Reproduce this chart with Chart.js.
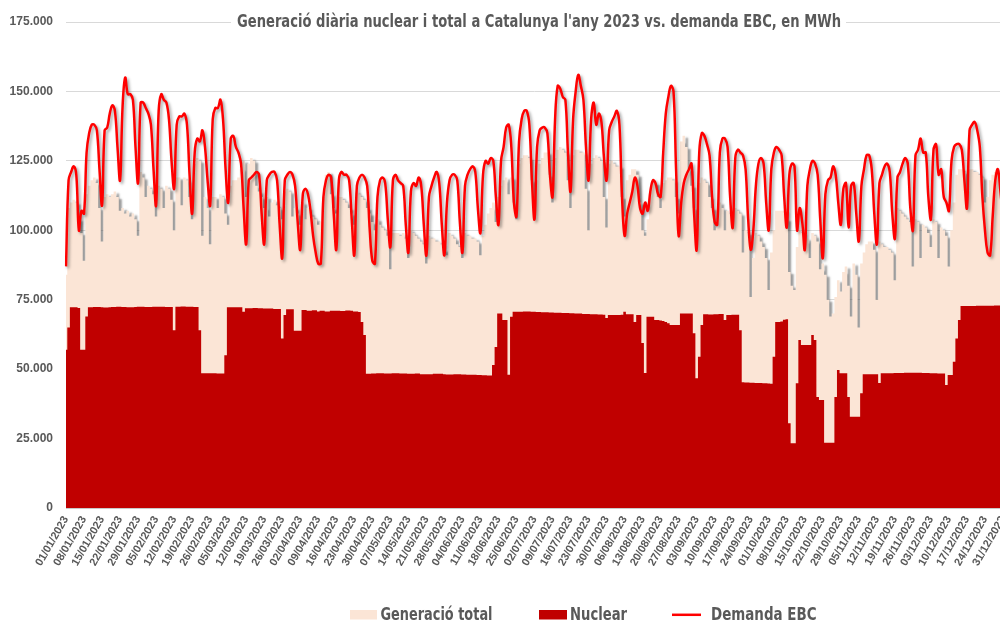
<!DOCTYPE html>
<html><head><meta charset="utf-8">
<script src="https://cdn.jsdelivr.net/npm/chart.js@4.4.0/dist/chart.umd.min.js"></script>
<style>
html,body{margin:0;padding:0;background:#fff;overflow:hidden;width:1000px;height:623px;}
#wrap{position:relative;width:1004px;height:623px;}
canvas{display:block;}
</style></head><body>
<div id="wrap"><canvas id="c" width="1004" height="623"></canvas></div>
<script>
// ---------- DATA (values in thousands of MWh) ----------
const seriesNames = ['Generació total', 'Nuclear', 'Demanda EBC'];
const titleText = "Generació diària nuclear i total a Catalunya l'any 2023 vs. demanda EBC, en MWh";
const yTickLabels = ['0', '25.000', '50.000', '75.000', '100.000', '125.000', '150.000', '175.000'];
const xTickLabels = ['01/01/2023','08/01/2023','15/01/2023','22/01/2023','29/01/2023','05/02/2023','12/02/2023','19/02/2023','26/02/2023','05/03/2023','12/03/2023','19/03/2023','26/03/2023','02/04/2023','09/04/2023','16/04/2023','23/04/2023','30/04/2023','07/05/2023','14/05/2023','21/05/2023','28/05/2023','04/06/2023','11/06/2023','18/06/2023','25/06/2023','02/07/2023','09/07/2023','16/07/2023','23/07/2023','30/07/2023','06/08/2023','13/08/2023','20/08/2023','27/08/2023','03/09/2023','10/09/2023','17/09/2023','24/09/2023','01/10/2023','08/10/2023','15/10/2023','22/10/2023','29/10/2023','05/11/2023','12/11/2023','19/11/2023','26/11/2023','03/12/2023','10/12/2023','17/12/2023','24/12/2023','31/12/2023'];

// Generació total (daily, 01/01 .. 31/12)
const total = [84,
108,110,111,110,104,99,89,
113,116,118,119,117,108,96,
112,113,112,113,114,112,107,
108,106,107,105,106,104,98,
121,119,112,116,115,113,105,
116,115,108,116,115,111,100,
119,119,109,119,118,112,104,
124,126,125,98,112,108,95,
112,112,108,113,112,106,102,
116,118,118,119,122,125,112,
124,126,125,116,114,112,108,
112,105,110,111,109,108,104,
114,115,114,105,108,106,102,
110,104,108,106,105,104,102,
103,112,120,121,113,108,106,
112,112,111,110,108,106,102,
114,113,112,111,108,106,103,
100,104,102,101,100,98,86,
99,99,99,98,99,97,90,
100,99,98,97,96,95,88,
98,97,97,96,96,95,93,
91,99,98,97,95,94,90,
99,98,98,97,97,96,91,
98,102,106,108,110,103,112,
116,118,119,113,119,110,104,
124,126,127,127,126,118,104,
118,124,126,128,128,120,110,
126,129,130,129,128,118,108,
127,129,129,128,128,115,100,
124,126,127,126,125,112,101,
124,125,124,123,123,112,105,
118,120,122,122,120,110,100,
98,104,114,117,117,112,108,
117,118,119,119,118,112,106,
132,134,130,122,116,108,99,
117,119,118,117,112,108,100,
101,110,108,100,107,106,104,
108,107,106,92,100,99,76,
90,99,98,96,94,90,78.5,
92,100,107,107,107,107,104,
85,80,78.5,94,100,99,96,
97,90,99,98,96,86,88,
84,75,69,70,76,82,78,
85,87,80,69,88,84,65,
88,92,95,96,96,93,75,
96,95,94,94,93,92,82,
108,107,106,105,104,103,87,
104,103,90,102,101,99,94,
104,103,90,101,100,98,87,
100,110,120,122,122,121,108,
122,122,121,121,120,119,110,
112,118,120,121,120,118,115];

// Nuclear (daily)
const nuclear = [57,
65,72.3,72.3,72.3,72.0,57,57,
69,72.3,72.3,72.4,72.4,72.4,72.3,
72.2,72.2,72.3,72.4,72.4,72.5,72.5,
72.4,72.4,72.3,72.3,72.3,72.4,72.5,
72.5,72.5,72.4,72.4,72.4,72.5,72.5,
72.5,72.5,72.5,72.4,72.4,72.4,64,
72.5,72.5,72.6,72.6,72.5,72.5,72.5,
72.4,72.4,64,48.5,48.5,48.5,48.5,
48.5,48.5,48.4,48.4,48.4,55,72.3,
72.3,72.3,72.3,72.3,72.3,70.7,71.9,
71.9,71.9,72.0,72.0,71.9,71.9,71.8,
71.8,71.8,71.8,71.7,71.7,71.7,61,
69.5,71.6,71.6,71.6,63.8,63.8,63.8,
71.3,71.3,71.0,71.0,71.2,71.2,70.8,
71.0,71.0,70.8,70.8,71.0,71.0,71.0,
71.0,70.9,70.9,71.1,71.1,71.0,70.8,
70.8,70.6,67,62.3,48.3,48.3,48.4,
48.4,48.5,48.5,48.5,48.4,48.4,48.4,
48.5,48.5,48.5,48.4,48.4,48.4,48.3,
48.3,48.3,48.4,48.4,48.2,48.2,48.2,
48.2,48.2,48.3,48.3,48.3,48.3,48.2,
48.1,48.1,48.1,48.2,48.2,48.2,48.1,
48.1,48.0,48.0,48.0,48.0,47.9,47.9,
47.8,47.8,47.7,47.7,51.5,58,70,
70,67.7,67.7,48,68.9,70.7,70.7,
70.7,70.7,70.8,70.8,70.8,70.7,70.7,
70.6,70.6,70.5,70.5,70.5,70.4,70.4,
70.3,70.3,70.3,70.2,70.2,70.2,70.1,
70.1,70.0,70.0,70.0,69.9,69.9,69.9,
69.8,69.8,69.8,69.7,69.7,69.6,68.4,
69.5,69.5,69.5,69.5,69.5,69.6,70.7,
69.8,69.8,69.8,67,69.5,69.5,59.4,
48.6,68.9,68.9,68.9,67.7,67.7,67.5,
67.3,67.0,66.5,65.9,65.9,65.9,65.9,
70,70,70,70,70,62.9,46.7,
54.5,65.9,69.8,69.8,69.7,69.7,69.8,
69.8,69.9,69.9,67.7,69.5,69.5,69.6,
69.6,69.6,64,45.3,45.2,45.2,45.1,
45.1,45.0,45.0,45.0,44.9,44.9,44.8,
44.7,54.5,67,67,67.2,67.8,68,
30.5,23.3,23.3,44.9,60.5,58.7,58.7,
58.7,58.7,62.3,60.5,40,38.9,38.9,
23.5,23.5,23.5,23.5,40,49.7,48.5,
48.5,48.5,40,32.9,32.9,32.9,32.9,
41.3,48.2,48.2,48.2,48.2,48.2,48.2,
45,48.5,48.5,48.5,48.5,48.5,48.6,
48.6,48.6,48.6,48.7,48.7,48.7,48.7,
48.7,48.7,48.7,48.6,48.6,48.6,48.5,
48.5,48.5,48.4,48.4,48.4,44.3,47.9,
47.9,52.7,61,67.7,72.7,72.7,72.7,
72.7,72.7,72.7,72.8,72.8,72.8,72.8,
72.8,72.8,72.8,72.9,72.9,72.9,72.9];

// Demanda EBC (daily)
const demand = [87,
118,121,123,120,100,107,106,
128,135,138,138,136,122,109,
136,137,142,145,143,130,118,
145,155,149,149,147,130,117,
146,146,144,142,138,122,109,
143,149,147,146,140,125,115,
138,141,141,142,138,120,106,
128,133,132,136,130,118,109,
140,144,144,147,140,122,110,
133,134,130,128,124,108,95,
118,119,120,121,120,106,95,
118,120,121,121,118,102,90,
118,120,121,120,116,103,93,
113,115,113,107,98,92,88,
88,112,118,120,119,106,93,
118,121,120,120,118,104,91,
116,119,120,119,116,100,89,
88,112,118,119,117,104,94,
118,120,118,117,116,102,92,
114,117,116,119,116,102,91,
112,116,119,121,117,102,91,
110,118,120,120,118,103,92,
116,120,122,123,121,108,99,
120,125,124,126,125,112,102,
125,130,137,138,130,110,105,
132,140,143,143,138,118,104,
130,136,137,137,135,120,112,
140,152,151,148,147,128,114,
140,150,156,152,147,130,118,
140,146,138,142,139,126,118,
136,139,141,143,138,112,98,
106,110,114,119,116,108,106,
110,107,114,118,117,113,112,
128,142,148,152,150,122,98,
110,117,120,122,124,106,93,
128,135,134,131,127,112,103,
102,128,133,133,130,112,101,
126,129,128,127,122,104,93,
100,116,124,126,124,110,100,
122,128,130,129,127,112,101,
120,124,123,100,108,103,93,
116,122,125,124,120,104,90,
113,118,119,123,120,110,102,
115,117,101,116,117,106,96,
116,122,127,127,122,106,95,
117,120,123,124,121,106,97,
119,121,124,126,124,108,100,
127,129,133,128,128,112,104,
129,131,120,122,112,110,107,
125,130,131,131,129,118,108,
136,138,139,136,130,112,100,
92,91,105,118,122,114,104];

// daily categories of 2023
const categories = [];
for (let d = new Date(Date.UTC(2023, 0, 1)); d.getUTCFullYear() === 2023; d.setUTCDate(d.getUTCDate() + 1)) {
  const dd = String(d.getUTCDate()).padStart(2, '0');
  const mm = String(d.getUTCMonth() + 1).padStart(2, '0');
  categories.push(dd + '/' + mm + '/2023');
}

// ---------- FONTS ----------
function available(f) {
  const c = document.createElement('canvas').getContext('2d');
  const s = 'abcdefghijklmnopqrstuvwxyz0123456789ABCDEFGH';
  c.font = '30px monospace'; const a = c.measureText(s).width;
  c.font = '30px "' + f + '", monospace'; const b = c.measureText(s).width;
  return Math.abs(a - b) > 0.5;
}
const FONTNAME = ['Liberation Sans Narrow', 'DejaVu Sans Condensed', 'Roboto Condensed', 'Liberation Sans', 'Roboto'].find(available) || 'sans-serif';
const FONT = '"' + FONTNAME + '", sans-serif';
const TICKFONT = '"Liberation Sans Narrow", "Liberation Sans", Arial, sans-serif';
const GREY = '#595959';

// ---------- DECOR PLUGIN ----------
function fittedText(c, txt, x, y, targetW, size) {
  c.save();
  c.font = 'bold ' + size + 'px ' + FONT;
  const w = c.measureText(txt).width;
  c.translate(x, y);
  c.scale(targetW / w, 1);
  c.textAlign = 'left';
  c.textBaseline = 'alphabetic';
  c.fillStyle = GREY;
  c.fillText(txt, 0, 0);
  c.restore();
}
const decor = {
  id: 'decor',
  beforeDatasetsDraw(chart) {
    const c = chart.ctx;
    c.save();
    c.shadowColor = 'rgba(90,90,90,0.6)';
    c.shadowOffsetX = 3;
    c.shadowOffsetY = 2;
    c.shadowBlur = 2;
  },
  afterDatasetDraw(chart, args) {
    if (args.index === 2) chart.ctx.restore();
    if (args.index === 0) chart.ctx.restore();
  },
  beforeDatasetDraw(chart, args) {
    if (args.index === 0) {
      const c = chart.ctx;
      c.save();
      c.shadowColor = 'rgba(0,0,0,0.35)';
      c.shadowOffsetX = 2;
      c.shadowOffsetY = 2;
      c.shadowBlur = 3;
    }
  },
  afterDraw(chart) {
    const c = chart.ctx;
    // title over the top gridline
    c.save();
    c.fillStyle = '#ffffff';
    c.fillRect(231, 8, 615, 26);
    c.restore();
    fittedText(c, titleText, 237, 26.5, 604, 18);
    // legend
    c.save();
    c.fillStyle = '#FBE5D6';
    c.fillRect(350, 610, 27, 9.5);
    c.fillStyle = '#C00000';
    c.fillRect(539, 610, 28, 9.5);
    c.strokeStyle = '#FF0000';
    c.lineWidth = 2.5;
    c.beginPath(); c.moveTo(672, 614.8); c.lineTo(701, 614.8); c.stroke();
    c.restore();
    fittedText(c, seriesNames[0], 380.5, 620, 112, 18);
    fittedText(c, seriesNames[1], 570, 620, 57, 18);
    fittedText(c, seriesNames[2], 711, 620, 105.5, 18);
  }
};

// ---------- CHART ----------
const ctx = document.getElementById('c').getContext('2d');
new Chart(ctx, {
  type: 'line',
  data: {
    labels: categories,
    datasets: [
      { label: seriesNames[2], data: demand, borderColor: '#FF0000', borderWidth: 2.5, pointRadius: 0,
        tension: 0.4, fill: false, order: 0 },
      { label: seriesNames[1], data: nuclear, borderColor: 'rgba(0,0,0,0)', borderWidth: 0, backgroundColor: '#C00000',
        fill: 'origin', pointRadius: 0, stepped: 'middle', order: 1 },
      { label: seriesNames[0], data: total, borderColor: 'rgba(0,0,0,0)', borderWidth: 0, backgroundColor: '#FBE5D6',
        fill: 'origin', pointRadius: 0, stepped: 'middle', order: 2 }
    ]
  },
  options: {
    responsive: false,
    animation: false,
    events: [],
    layout: { padding: { top: 22, left: 0, right: 1, bottom: 57 } },
    plugins: { legend: { display: false }, title: { display: false }, tooltip: { enabled: false } },
    scales: {
      x: {
        type: 'category',
        offset: false,
        grid: { display: false, drawTicks: false },
        border: { display: true, color: '#C9C9C9', width: 1 },
        ticks: {
          autoSkip: false, maxRotation: 60, minRotation: 60, padding: 6,
          color: GREY, font: { family: TICKFONT, size: 11, weight: 'bold' },
          callback: (v, i) => (i % 7 === 0 ? xTickLabels[i / 7] : null)
        },
        afterFit: (s) => { s.height = 58; s.paddingLeft = 0; s.paddingRight = 0; }
      },
      y: {
        min: 0, max: 175,
        grid: { color: '#D9D9D9', drawTicks: false, lineWidth: 1 },
        border: { display: false },
        ticks: {
          stepSize: 25, padding: 13, color: GREY,
          font: { family: TICKFONT, size: 12, weight: 'bold' },
          callback: (v) => yTickLabels[Math.round(v / 25)]
        },
        afterFit: (s) => { s.width = 66; }
      }
    }
  },
  plugins: [decor]
});
</script>
</body></html>
